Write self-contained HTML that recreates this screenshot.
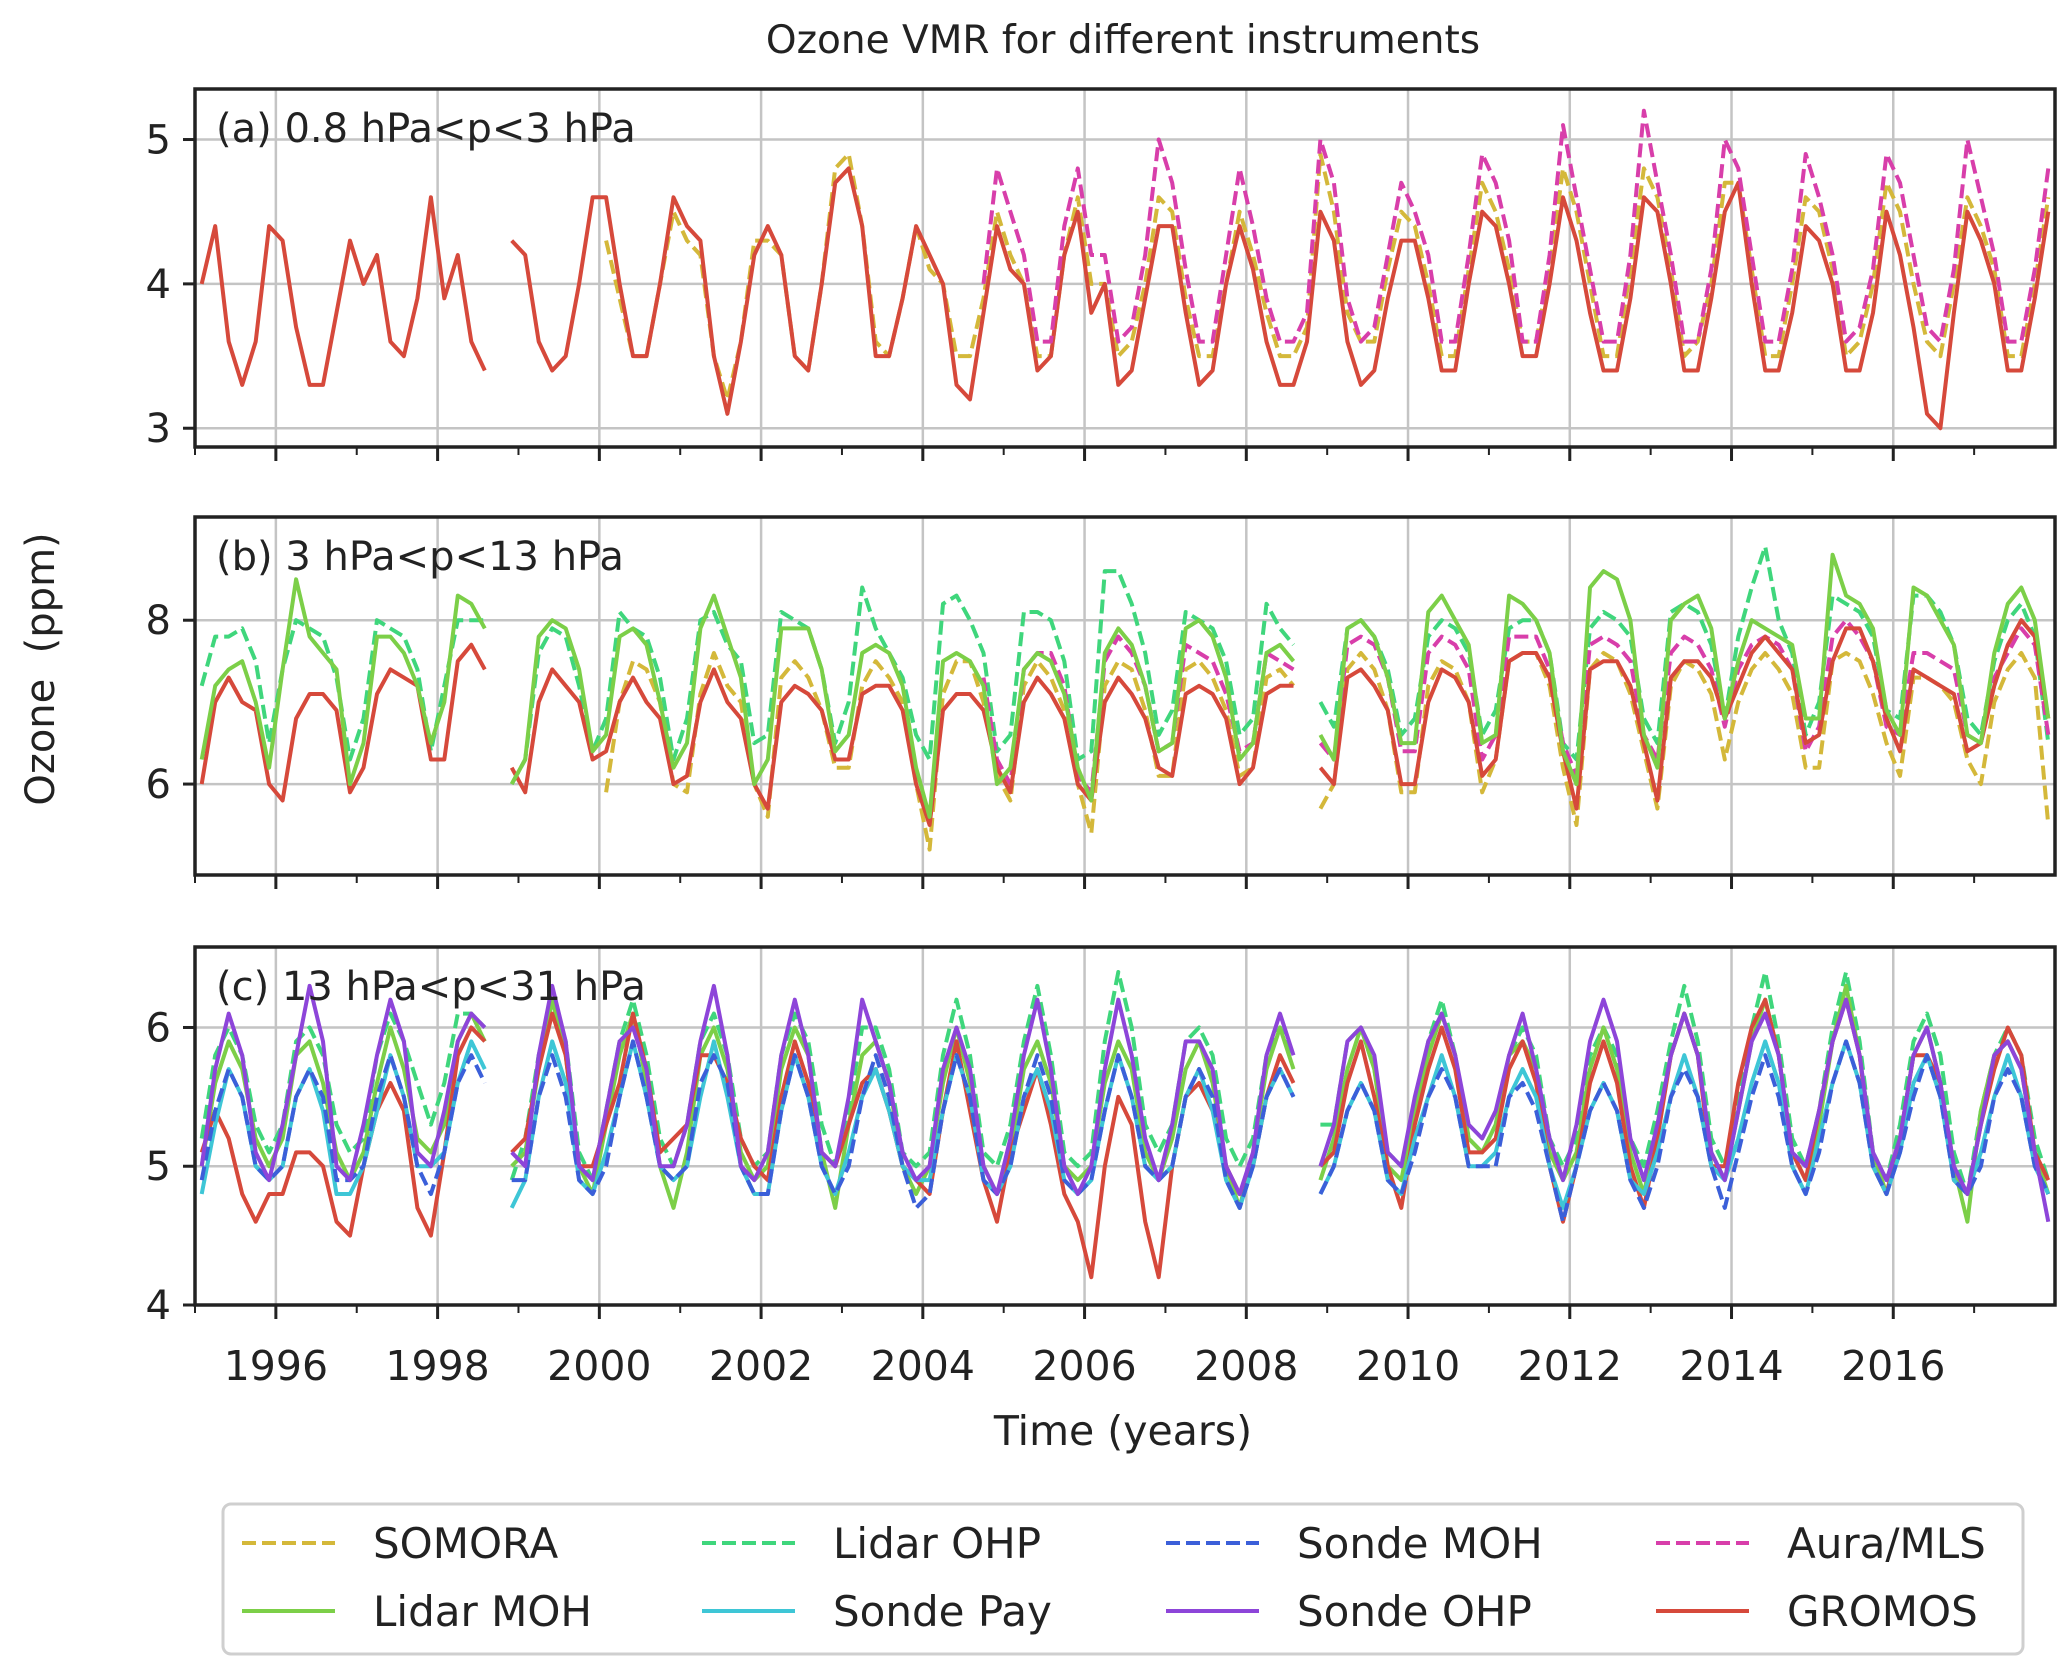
<!DOCTYPE html>
<html><head><meta charset="utf-8">
<style>
html,body{margin:0;padding:0;background:#fff;}
svg{display:block;font-family:"DejaVu Sans","Liberation Sans",sans-serif;}
</style></head>
<body>
<svg id="chart" width="2067" height="1670" viewBox="0 0 2067 1670" xmlns="http://www.w3.org/2000/svg">
<text x="1123" y="53" font-size="39" text-anchor="middle" fill="#222">Ozone VMR for different instruments</text>
<text transform="translate(54,669) rotate(-90)" font-size="40" text-anchor="middle" fill="#222">Ozone&#160;&#160;(ppm)</text>
<text x="1123" y="1445" font-size="41" text-anchor="middle" fill="#222">Time (years)</text>
<g id="panels"></g>
<g id="legend"></g>
</svg>
<script>
// ---------- data (values sampled Jan, Mar, May, Jul, Sep, Nov each year) ----------
const xTicks = [1996,1998,2000,2002,2004,2006,2008,2010,2012,2014,2016];
const panelLabels = ["(a) 0.8 hPa<p<3 hPa","(b) 3 hPa<p<13 hPa","(c) 13 hPa<p<31 hPa"];
const yTicksA = [3,4,5];
const yTicksB = [6,8];
const yTicksC = [4,5,6];

const aGromos = [4.0,4.4,3.6,3.3,3.6,4.4, 4.3,3.7,3.3,3.3,3.8,4.3, 4.0,4.2,3.6,3.5,3.9,4.6, 3.9,4.2,3.6,3.4,null,4.3, 4.2,3.6,3.4,3.5,4.0,4.6, 4.6,4.0,3.5,3.5,4.0,4.6, 4.4,4.3,3.5,3.1,3.6,4.2, 4.4,4.2,3.5,3.4,4.0,4.7, 4.8,4.4,3.5,3.5,3.9,4.4, 4.2,4.0,3.3,3.2,3.8,4.4, 4.1,4.0,3.4,3.5,4.2,4.5, 3.8,4.0,3.3,3.4,3.9,4.4, 4.4,3.8,3.3,3.4,4.0,4.4, 4.1,3.6,3.3,3.3,3.6,4.5, 4.3,3.6,3.3,3.4,3.9,4.3, 4.3,3.9,3.4,3.4,4.0,4.5, 4.4,4.0,3.5,3.5,4.0,4.6, 4.3,3.8,3.4,3.4,3.9,4.6, 4.5,4.0,3.4,3.4,3.9,4.5, 4.7,4.0,3.4,3.4,3.8,4.4, 4.3,4.0,3.4,3.4,3.8,4.5, 4.2,3.7,3.1,3.0,3.8,4.5, 4.3,4.0,3.4,3.4,3.9,4.5];
const aSomora = [4.3,3.9,3.5,3.5,4.0,4.5, 4.3,4.2,3.5,3.2,3.6,4.3, 4.3,4.2,3.5,3.4,4.0,4.8, 4.9,4.4,3.6,3.5,3.9,4.4, 4.1,4.0,3.5,3.5,3.9,4.5, 4.2,4.0,3.5,3.5,4.2,4.6, 4.0,4.0,3.5,3.6,4.0,4.6, 4.5,3.9,3.5,3.5,4.0,4.5, 4.2,3.8,3.5,3.5,3.7,4.9, 4.5,3.8,3.6,3.6,4.1,4.5, 4.4,4.0,3.5,3.5,4.1,4.7, 4.5,4.1,3.6,3.6,4.1,4.8, 4.5,4.0,3.5,3.5,4.1,4.8, 4.6,4.1,3.5,3.6,4.0,4.7, 4.7,4.1,3.5,3.5,4.0,4.6, 4.5,4.1,3.5,3.6,4.0,4.7, 4.5,4.0,3.6,3.5,4.0,4.6, 4.4,4.1,3.5,3.5,4.0,4.6];
const aMls = [null,null,null,null,4.0,4.8, 4.5,4.2,3.6,3.6,4.4,4.8, 4.2,4.2,3.6,3.7,4.2,5.0, 4.7,4.1,3.6,3.6,4.2,4.8, 4.4,3.9,3.6,3.6,3.8,5.0, 4.7,3.9,3.6,3.7,4.2,4.7, 4.5,4.2,3.6,3.6,4.2,4.9, 4.7,4.3,3.6,3.6,4.2,5.1, 4.6,4.1,3.6,3.6,4.2,5.2, 4.7,4.2,3.6,3.6,4.1,5.0, 4.8,4.2,3.6,3.6,4.1,4.9, 4.6,4.2,3.6,3.7,4.1,4.9, 4.7,4.2,3.7,3.6,4.1,5.0, 4.6,4.2,3.6,3.6,4.1,4.8];

const bGromos = [6.0,7.0,7.3,7.0,6.9,6.0, 5.8,6.8,7.1,7.1,6.9,5.9, 6.2,7.1,7.4,7.3,7.2,6.3, 6.3,7.5,7.7,7.4,null,6.2, 5.9,7.0,7.4,7.2,7.0,6.3, 6.4,7.0,7.3,7.0,6.8,6.0, 6.1,7.0,7.4,7.0,6.8,6.0, 5.7,7.0,7.2,7.1,6.9,6.3, 6.3,7.1,7.2,7.2,6.9,6.0, 5.5,6.9,7.1,7.1,6.9,6.2, 5.9,7.0,7.3,7.1,6.8,6.0, 5.8,7.0,7.3,7.1,6.8,6.2, 6.1,7.1,7.2,7.1,6.8,6.0, 6.2,7.1,7.2,7.2,null,6.2, 6.0,7.3,7.4,7.2,6.9,6.0, 6.0,7.0,7.4,7.3,7.0,6.1, 6.3,7.5,7.6,7.6,7.3,6.4, 5.7,7.4,7.5,7.5,7.2,6.5, 5.8,7.3,7.5,7.5,7.3,6.8, 7.2,7.6,7.8,7.6,7.4,6.5, 6.6,7.5,7.9,7.9,7.5,6.8, 6.4,7.4,7.3,7.2,7.1,6.4, 6.5,7.2,7.7,8.0,7.8,6.8];
const bLidarMoh = [6.3,7.2,7.4,7.5,7.0,6.2, 7.4,8.5,7.8,7.6,7.4,6.0, 6.5,7.8,7.8,7.6,7.2,6.5, 7.0,8.3,8.2,7.9,null,6.0, 6.3,7.8,8.0,7.9,7.4,6.4, 6.6,7.8,7.9,7.7,7.0,6.2, 6.5,7.9,8.3,7.8,7.3,6.0, 6.3,7.9,7.9,7.9,7.4,6.4, 6.6,7.6,7.7,7.6,7.2,6.2, 5.6,7.5,7.6,7.5,7.2,6.0, 6.2,7.4,7.6,7.5,7.1,6.2, 5.8,7.6,7.9,7.7,7.2,6.4, 6.5,7.9,8.0,7.8,7.3,6.3, 6.5,7.6,7.7,7.5,null,6.6, 6.3,7.9,8.0,7.8,7.3,6.5, 6.5,8.1,8.3,8.0,7.7,6.5, 6.6,8.3,8.2,8.0,7.6,6.4, 6.0,8.4,8.6,8.5,8.0,6.6, 6.2,8.0,8.2,8.3,7.9,6.8, 7.5,8.0,7.9,7.8,7.7,6.8, 6.8,8.8,8.3,8.2,7.9,6.9, 6.6,8.4,8.3,8.0,7.7,6.6, 6.5,7.6,8.2,8.4,8.0,6.8];
const bLidarOhp = [7.2,7.8,7.8,7.9,7.5,6.5, 7.4,8.0,7.9,7.8,7.3,6.3, 6.8,8.0,7.9,7.8,7.4,6.4, 7.2,8.0,8.0,8.0,null,6.0, 6.3,7.6,7.9,7.8,7.2,6.4, 6.8,8.1,7.9,7.8,7.3,6.3, 6.8,8.0,8.1,7.7,7.5,6.5, 6.6,8.1,8.0,7.9,7.4,6.5, 7.0,8.4,7.9,7.6,7.3,6.6, 6.3,8.2,8.3,8.0,7.6,6.4, 6.6,8.1,8.1,8.0,7.5,6.3, 6.4,8.6,8.6,8.2,7.6,6.6, 6.9,8.1,8.0,7.9,7.5,6.6, 6.8,8.2,7.9,7.7,null,7.0, 6.7,7.9,8.0,7.8,7.4,6.6, 6.8,7.8,8.0,7.9,7.6,6.6, 6.9,7.9,8.0,8.0,7.6,6.5, 6.3,7.9,8.1,8.0,7.8,6.8, 6.5,8.1,8.2,8.1,7.7,6.8, 7.8,8.4,8.9,8.0,7.6,6.6, 7.0,8.3,8.2,8.1,7.8,6.9, 6.8,8.3,8.3,8.1,7.7,6.8, 6.6,7.5,8.0,8.2,7.8,6.5];
const bSomora = [5.9,7.0,7.5,7.4,7.0,6.0, 5.9,7.1,7.6,7.2,7.0,6.0, 5.6,7.3,7.5,7.3,6.9,6.2, 6.2,7.2,7.5,7.3,7.0,6.0, 5.2,7.1,7.5,7.5,7.0,6.1, 5.8,7.2,7.5,7.3,6.9,6.0, 5.4,7.2,7.5,7.4,6.9,6.1, 6.1,7.4,7.5,7.3,6.9,6.1, 6.2,7.3,7.4,7.2,null,5.7, 6.0,7.4,7.6,7.4,6.9,5.9, 5.9,7.2,7.5,7.4,7.0,5.9, 6.3,7.5,7.6,7.6,7.2,6.2, 5.5,7.4,7.6,7.5,7.1,6.4, 5.7,7.2,7.5,7.4,7.1,6.3, 7.0,7.4,7.6,7.4,7.1,6.2, 6.2,7.5,7.6,7.5,7.1,6.5, 6.1,7.3,7.3,7.2,7.0,6.3, 6.0,7.0,7.4,7.6,7.3,5.5];
const bMls = [null,null,null,null,7.3,6.3, 6.0,7.4,7.6,7.6,7.2,6.1, 5.9,7.5,7.8,7.6,7.2,6.4, 6.5,7.7,7.6,7.5,7.1,6.4, 6.5,7.6,7.5,7.4,null,6.5, 6.3,7.7,7.8,7.7,7.3,6.4, 6.4,7.6,7.8,7.7,7.4,6.3, 6.6,7.8,7.8,7.8,7.4,6.5, 6.1,7.7,7.8,7.7,7.5,6.6, 6.3,7.6,7.8,7.7,7.4,6.7, 7.4,7.7,7.8,7.7,7.4,6.4, 6.7,7.8,8.0,7.8,7.5,6.7, 6.6,7.6,7.6,7.5,7.4,6.6, 6.5,7.3,7.6,7.9,7.7,6.6];

const cGromos = [5.1,5.4,5.2,4.8,4.6,4.8, 4.8,5.1,5.1,5.0,4.6,4.5, 5.0,5.4,5.6,5.4,4.7,4.5, 5.1,5.8,6.0,5.9,null,5.1, 5.2,5.7,6.1,5.8,5.0,5.0, 5.3,5.6,6.1,5.7,5.1,5.2, 5.3,5.8,5.8,5.6,5.2,5.0, 4.9,5.5,5.9,5.6,5.1,5.0, 5.3,5.6,5.7,5.4,5.0,4.9, 4.8,5.4,5.9,5.4,4.9,4.6, 5.1,5.4,5.7,5.3,4.8,4.6, 4.2,5.0,5.5,5.3,4.6,4.2, 5.0,5.5,5.6,5.4,5.0,4.8, 5.0,5.5,5.8,5.6,null,5.0, 5.1,5.6,5.9,5.5,5.0,4.7, 5.3,5.7,6.0,5.7,5.1,5.1, 5.2,5.7,5.9,5.6,5.0,4.6, 5.0,5.6,5.9,5.6,5.0,4.7, 5.2,5.8,6.1,5.8,5.0,5.0, 5.6,6.0,6.2,5.8,5.1,4.9, 5.4,5.9,6.2,5.8,5.0,4.8, 5.2,5.8,5.8,5.6,4.9,4.8, 5.3,5.7,6.0,5.8,5.1,4.9];
const cLidarMoh = [5.0,5.6,5.9,5.7,5.2,5.0, 5.2,5.8,5.9,5.6,5.1,4.9, 5.1,5.6,6.0,5.7,5.2,5.1, 5.3,5.9,6.1,5.9,null,5.0, 5.1,5.7,6.2,5.8,5.0,4.8, 5.3,5.8,6.1,5.6,5.0,4.7, 5.1,5.8,6.0,5.7,5.1,4.9, 5.0,5.7,6.0,5.8,5.1,4.7, 5.3,5.8,5.9,5.6,5.0,4.8, 5.0,5.6,6.0,5.6,5.0,4.8, 5.1,5.7,5.9,5.6,5.0,4.9, 5.0,5.6,5.9,5.7,5.1,4.9, 5.2,5.7,5.9,5.6,5.0,4.7, 5.1,5.7,6.0,5.7,null,4.9, 5.2,5.7,6.0,5.7,5.0,4.9, 5.4,5.8,6.1,5.8,5.2,5.1, 5.3,5.8,5.9,5.7,5.1,4.9, 5.1,5.7,6.0,5.7,5.1,4.8, 5.3,5.8,6.1,5.8,5.1,4.9, 5.4,5.9,6.2,5.8,5.1,4.9, 5.3,5.9,6.3,5.8,5.1,4.8, 5.2,5.8,6.0,5.6,5.0,4.6, 5.4,5.8,5.9,5.7,5.1,4.8];
const cLidarOhp = [5.2,5.8,6.0,5.8,5.3,5.1, 5.3,5.9,6.0,5.8,5.3,5.1, 5.2,5.8,6.1,5.9,5.6,5.3, 5.6,6.1,6.1,6.0,null,4.9, 5.2,5.8,6.2,5.9,5.1,4.9, 5.4,5.9,6.2,5.8,5.2,5.0, 5.3,5.9,6.1,5.8,5.2,5.0, 5.1,5.8,6.1,5.9,5.3,5.0, 5.4,6.0,6.0,5.7,5.1,5.0, 5.1,5.8,6.2,5.8,5.1,5.0, 5.3,5.9,6.3,5.8,5.1,5.0, 5.1,5.9,6.4,6.0,5.3,5.1, 5.3,5.9,6.0,5.8,5.2,5.0, 5.2,5.8,6.0,5.8,null,5.3, 5.3,5.9,6.0,5.7,5.1,5.0, 5.4,5.9,6.2,5.8,5.2,5.1, 5.3,5.8,6.0,5.8,5.2,5.0, 5.2,5.8,6.0,5.8,5.2,5.0, 5.4,5.9,6.3,5.9,5.2,5.0, 5.5,6.0,6.4,5.9,5.2,5.0, 5.4,6.0,6.4,5.9,5.1,4.9, 5.3,5.9,6.1,5.8,5.1,4.8, 5.4,5.8,6.0,5.8,5.2,4.9];
const cSondePay = [4.8,5.3,5.7,5.5,5.0,4.9, 5.0,5.5,5.7,5.4,4.8,4.8, 5.0,5.4,5.8,5.5,5.0,5.0, 5.1,5.6,5.9,5.7,null,4.7, 4.9,5.5,5.9,5.6,4.9,4.8, 5.1,5.5,5.9,5.5,5.0,4.9, 5.0,5.5,5.9,5.5,5.0,4.8, 4.8,5.4,5.8,5.5,5.0,4.8, 5.1,5.5,5.7,5.4,5.0,4.9, 4.9,5.4,5.8,5.5,4.9,4.8, 5.0,5.5,5.7,5.4,4.9,4.8, 4.9,5.4,5.8,5.5,5.0,4.9, 5.0,5.5,5.7,5.4,4.9,4.7, 5.0,5.5,5.7,5.5,null,4.8, 5.0,5.4,5.6,5.4,4.9,4.8, 5.2,5.5,5.8,5.5,5.0,5.0, 5.1,5.5,5.7,5.5,5.0,4.7, 5.0,5.4,5.6,5.4,4.9,4.8, 5.1,5.5,5.8,5.5,5.0,4.9, 5.2,5.6,5.9,5.6,5.0,4.8, 5.2,5.6,5.9,5.6,5.0,4.8, 5.1,5.6,5.8,5.5,4.9,4.8, 5.1,5.5,5.8,5.5,5.0,4.8];
const cSondeMoh = [4.9,5.4,5.7,5.5,5.0,4.9, 5.0,5.5,5.7,5.5,4.9,4.9, 5.0,5.5,5.8,5.5,5.0,4.8, 5.1,5.6,5.8,5.6,null,4.9, 4.9,5.5,5.8,5.5,4.9,4.8, 5.0,5.5,5.9,5.5,5.0,4.9, 5.0,5.6,5.8,5.6,5.0,4.8, 4.8,5.4,5.8,5.5,5.0,4.8, 5.0,5.5,5.8,5.5,5.0,4.7, 4.8,5.4,5.8,5.5,4.9,4.8, 5.0,5.5,5.8,5.5,4.9,4.8, 4.9,5.4,5.8,5.5,5.0,4.9, 5.0,5.5,5.7,5.5,4.9,4.7, 5.0,5.5,5.7,5.5,null,4.8, 5.0,5.4,5.6,5.4,4.9,4.8, 5.1,5.5,5.7,5.5,5.0,5.0, 5.0,5.5,5.6,5.4,5.0,4.6, 5.0,5.4,5.6,5.4,4.9,4.7, 5.0,5.5,5.7,5.5,5.0,4.7, 5.1,5.5,5.8,5.5,5.0,4.8, 5.1,5.6,5.9,5.6,5.0,4.8, 5.1,5.5,5.8,5.5,4.9,4.8, 5.0,5.5,5.7,5.5,5.0,4.8];
const cSondeOhp = [5.0,5.7,6.1,5.8,5.1,4.9, 5.3,5.8,6.3,5.9,5.0,4.9, 5.3,5.8,6.2,5.9,5.1,5.0, 5.4,5.9,6.1,6.0,null,5.1, 5.0,5.8,6.3,5.9,5.0,4.9, 5.4,5.9,6.0,5.7,5.0,5.0, 5.3,5.9,6.3,5.8,5.0,4.9, 5.1,5.8,6.2,5.8,5.1,5.0, 5.5,6.2,5.9,5.6,5.1,4.9, 5.0,5.7,6.0,5.7,5.0,4.8, 5.2,5.8,6.2,5.7,5.0,4.8, 5.0,5.7,6.2,5.8,5.2,4.9, 5.3,5.9,5.9,5.7,5.0,4.8, 5.1,5.8,6.1,5.8,null,5.0, 5.3,5.9,6.0,5.8,5.1,5.0, 5.5,5.9,6.1,5.8,5.3,5.2, 5.4,5.8,6.1,5.7,5.2,4.9, 5.3,5.9,6.2,5.9,5.2,4.9, 5.3,5.8,6.1,5.8,5.1,4.9, 5.4,5.9,6.1,5.8,5.1,5.0, 5.4,5.9,6.2,5.8,5.1,4.9, 5.2,5.8,6.0,5.6,5.0,4.8, 5.3,5.8,5.9,5.7,5.1,4.6];

// ---------- styling ----------
const COL = {somora:"#d4b83a", lidarMoh:"#7ccf48", lidarOhp:"#3fd67c", sondePay:"#3ec6d6", sondeMoh:"#3b5fd9", sondeOhp:"#8d45d9", mls:"#d83eaa", gromos:"#d6493b"};
const NS = "http://www.w3.org/2000/svg";
const X0 = 195, X1 = 2055, T0 = 1995, T1 = 2018;
function xs(t){ return X0 + (t - T0) / (T1 - T0) * (X1 - X0); }
function mk(tag, attrs, parent){ const e = document.createElementNS(NS, tag); for (const k in attrs) e.setAttribute(k, attrs[k]); parent.appendChild(e); return e; }

const panels = [
  {top:89, bot:447, ymin:2.87, ymax:5.35, ticks:yTicksA, series:[
    {name:"somora", start:2000, vals:aSomora, col:COL.somora, dash:true},
    {name:"gromos", start:1995, vals:aGromos, col:COL.gromos, dash:false},
    {name:"mls", start:2004, vals:aMls, col:COL.mls, dash:true}]},
  {top:517, bot:875, ymin:4.89, ymax:9.26, ticks:yTicksB, series:[
    {name:"somora", start:2000, vals:bSomora, col:COL.somora, dash:true},
    {name:"lidar-ohp", start:1995, vals:bLidarOhp, col:COL.lidarOhp, dash:true},
    {name:"mls", start:2004, vals:bMls, col:COL.mls, dash:true},
    {name:"gromos", start:1995, vals:bGromos, col:COL.gromos, dash:false},
    {name:"lidar-moh", start:1995, vals:bLidarMoh, col:COL.lidarMoh, dash:false}]},
  {top:947, bot:1305, ymin:4.0, ymax:6.58, ticks:yTicksC, series:[
    {name:"lidar-ohp", start:1995, vals:cLidarOhp, col:COL.lidarOhp, dash:true},
    {name:"lidar-moh", start:1995, vals:cLidarMoh, col:COL.lidarMoh, dash:false},
    {name:"gromos", start:1995, vals:cGromos, col:COL.gromos, dash:false},
    {name:"sonde-pay", start:1995, vals:cSondePay, col:COL.sondePay, dash:false},
    {name:"sonde-moh", start:1995, vals:cSondeMoh, col:COL.sondeMoh, dash:true},
    {name:"sonde-ohp", start:1995, vals:cSondeOhp, col:COL.sondeOhp, dash:false}]}
];

const root = document.getElementById("panels");
panels.forEach((p, pi) => {
  const ys = v => p.bot - (v - p.ymin) / (p.ymax - p.ymin) * (p.bot - p.top);
  const g = mk("g", {}, root);
  
  
  const clipId = "clip" + pi;
  const cp = mk("clipPath", {id:clipId}, g);
  mk("rect", {x:X0, y:p.top, width:X1-X0, height:p.bot-p.top}, cp);
  xTicks.forEach(t => {
    const l = mk("line", {x1:xs(t), x2:xs(t), y1:p.top, y2:p.bot, stroke:"#c4c4c4", "stroke-width":2.5}, g);
    
    
  });
  p.ticks.forEach(v => {
    const l = mk("line", {x1:X0, x2:X1, y1:ys(v), y2:ys(v), stroke:"#c4c4c4", "stroke-width":2.5}, g);
    
    
  });
  const sg = mk("g", {"clip-path":"url(#"+clipId+")"}, g);
  p.series.forEach(s => {
    let d = "", pen = false;
    s.vals.forEach((v, i) => {
      if (v === null) { pen = false; return; }
      const t = s.start + Math.floor(i/6) + (2*(i%6)+1)/12;
      d += (pen ? "L" : "M") + xs(t).toFixed(1) + "," + ys(v).toFixed(1);
      pen = true;
    });
    const path = mk("path", {d:d, fill:"none", stroke:s.col, "stroke-width":4, "stroke-linejoin":"round"}, sg);
    if (s.dash) path.setAttribute("stroke-dasharray", "14 6");
    
    
  });
  const fr = mk("rect", {x:X0, y:p.top, width:X1-X0, height:p.bot-p.top, fill:"none", stroke:"#222", "stroke-width":3.5}, g);
  
  
  p.ticks.forEach(v => {
    mk("line", {x1:X0-12, x2:X0, y1:ys(v), y2:ys(v), stroke:"#222", "stroke-width":3}, g);
    const tx = mk("text", {x:X0-24, y:ys(v)+14, "font-size":40, "text-anchor":"end", fill:"#222"}, g);
    tx.textContent = v;
    
    
  });
  for (let t = 1995; t <= 2017; t++) {
    const major = xTicks.includes(t);
    mk("line", {x1:xs(t), x2:xs(t), y1:p.bot, y2:p.bot + (major ? 14 : 8), stroke:"#222", "stroke-width": major ? 3 : 2}, g);
  }
  const lb = mk("text", {x:216, y:p.top+53, "font-size":40, fill:"#222"}, g);
  lb.textContent = panelLabels[pi];
  
  
});
xTicks.forEach(t => {
  const tx = mk("text", {x:xs(t), y:1380, "font-size":41, "text-anchor":"middle", fill:"#222"}, root);
  tx.textContent = t;
  
  
});

// legend
const legendNames = ["SOMORA","Lidar MOH","Lidar OHP","Sonde Pay","Sonde MOH","Sonde OHP","Aura/MLS","GROMOS"];
const legendCols = [COL.somora, COL.lidarMoh, COL.lidarOhp, COL.sondePay, COL.sondeMoh, COL.sondeOhp, COL.mls, COL.gromos];
const legendDash = [true,false,true,false,true,false,true,false];
const lg = document.getElementById("legend");
mk("rect", {x:223, y:1504, width:1800, height:150, rx:8, fill:"#fff", stroke:"#cfcfcf", "stroke-width":3}, lg);
const colX = [242, 702, 1166, 1656];
legendNames.forEach((n, i) => {
  const c = Math.floor(i/2), r = i%2;
  const y = 1543 + r*68;
  const e = mk("g", {}, lg);
  
  
  const l = mk("line", {x1:colX[c], x2:colX[c]+93, y1:y, y2:y, stroke:legendCols[i], "stroke-width":4}, e);
  if (legendDash[i]) l.setAttribute("stroke-dasharray","14 6");
  const tx = mk("text", {x:colX[c]+131, y:y+15, "font-size":42, fill:"#222"}, e);
  tx.textContent = n;
});
</script>
</body></html>
